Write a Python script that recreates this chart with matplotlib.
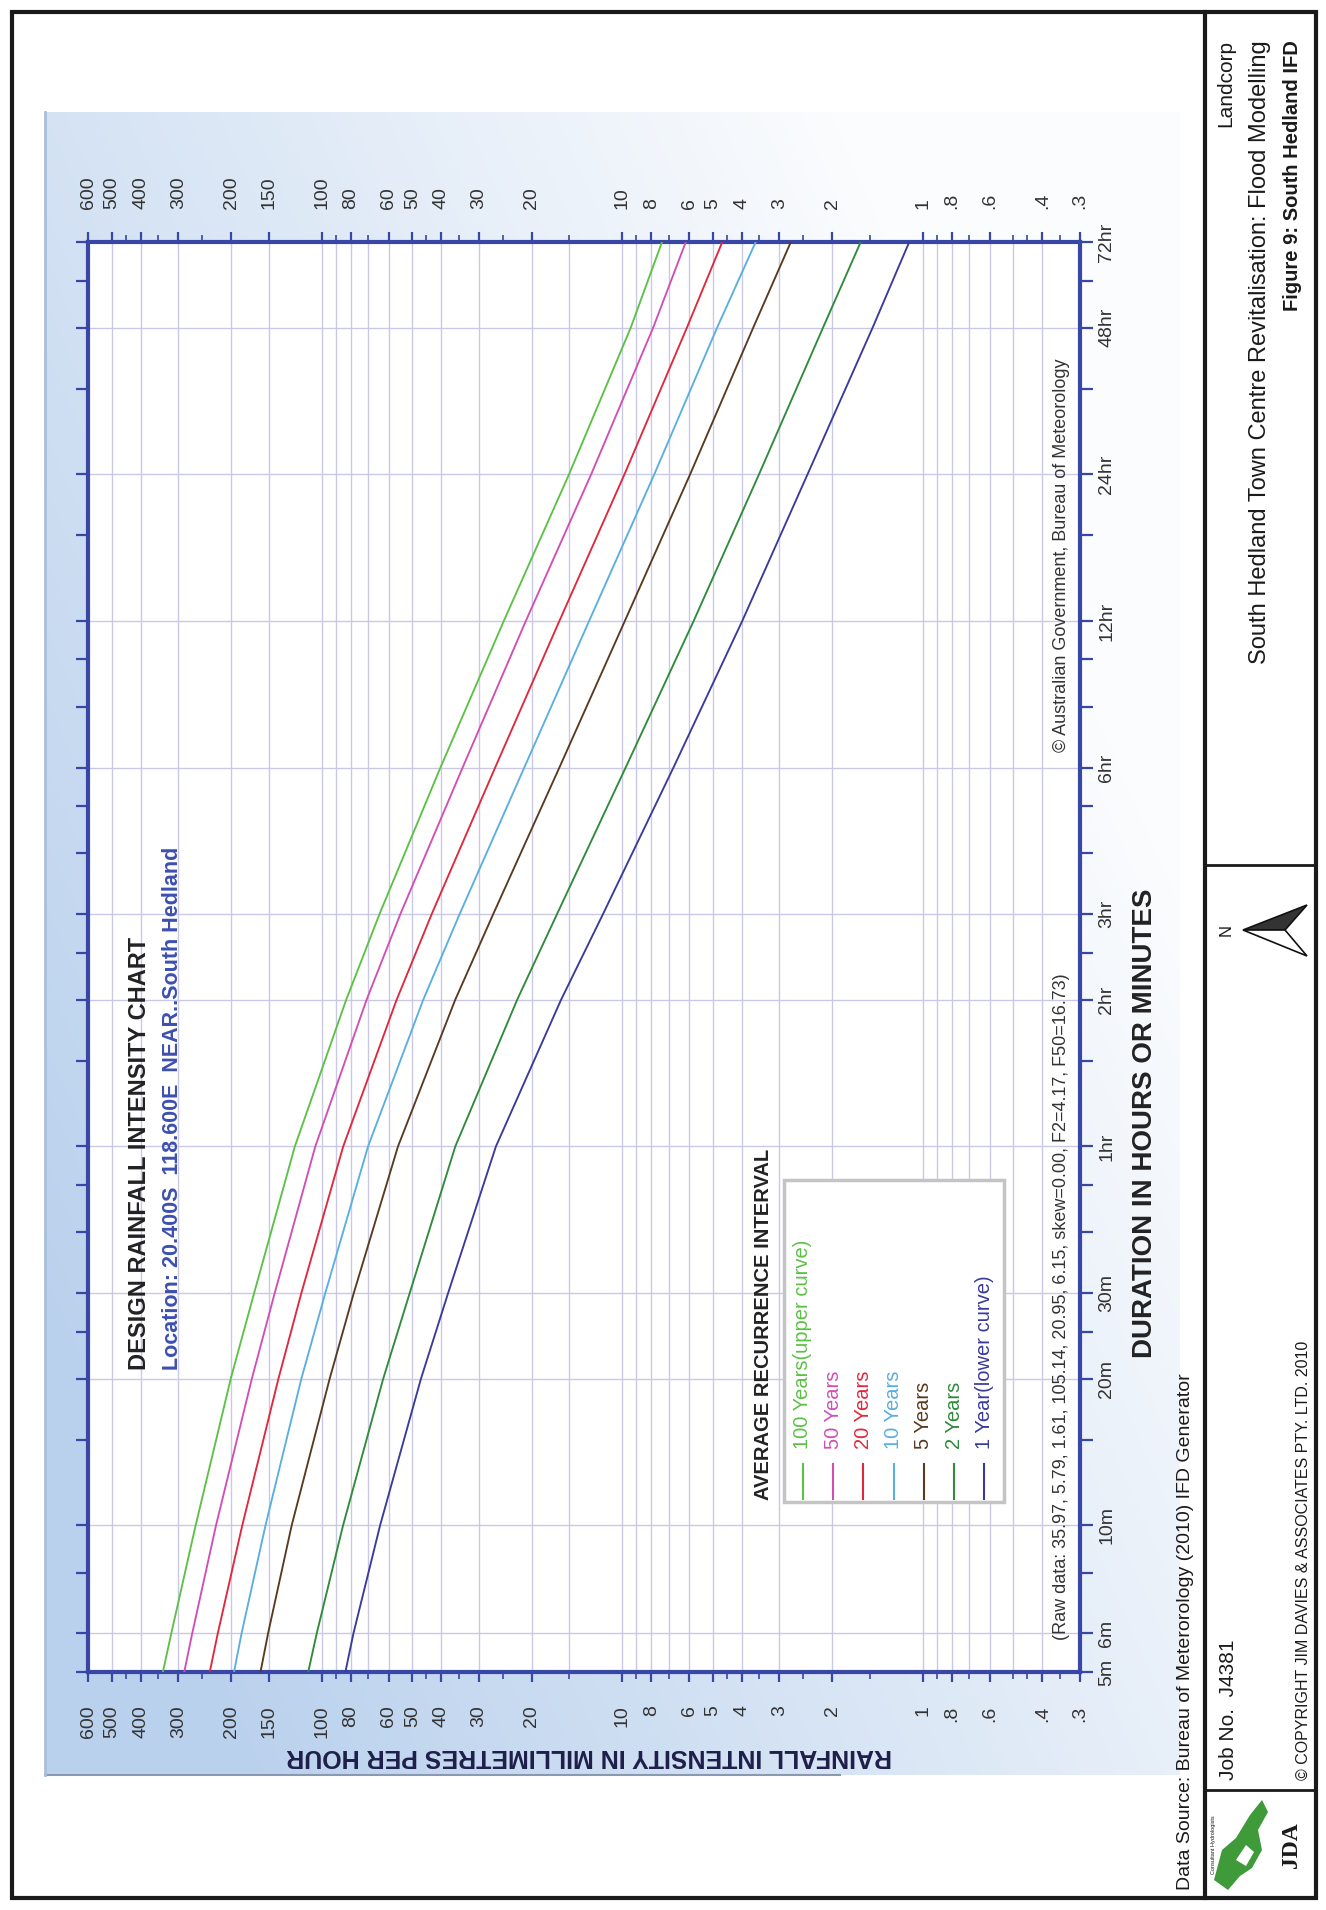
import numpy as np
import matplotlib
matplotlib.use("Agg")
import matplotlib.pyplot as plt
from matplotlib.patches import Rectangle, Polygon
from matplotlib.lines import Line2D
import matplotlib.ticker as mticker

plt.rcParams['font.family'] = ['Liberation Sans', 'DejaVu Sans']

# ---------------- data ----------------
durations_min = [5, 6, 10, 20, 30, 60, 120, 180, 360, 720, 1440, 2880, 4320]
ari_labels = ["100 Years(upper curve)", "50 Years", "20 Years", "10 Years",
              "5 Years", "2 Years", "1 Year(lower curve)"]
ari_colors = ["#5cc146", "#d04fb4", "#e0283c", "#5aaee0", "#5a3a1e", "#2f8a3a", "#3a3a9a"]
i_100 = [338, 317, 263, 201, 168, 123, 83.0, 64.3, 40.3, 24.8, 15.05, 9.38, 7.38]
i_50 = [287, 270, 225, 171, 143.5, 105.14, 71.0, 54.8, 34.0, 20.95, 12.7, 7.9, 6.15]
i_20 = [236, 222, 184, 139.5, 117, 84.9, 56.4, 43.1, 26.5, 16.2, 9.84, 6.10, 4.65]
i_10 = [196, 185, 154, 117, 97.4, 70.2, 46.0, 34.8, 21.2, 12.9, 7.83, 4.84, 3.60]
i_5 = [160, 151, 126, 94.2, 78.3, 55.8, 36.0, 26.9, 16.2, 9.81, 5.95, 3.67, 2.75]
i_2 = [111, 104, 85, 62.5, 51.0, 35.97, 22.4, 16.5, 9.75, 5.79, 3.51, 2.15, 1.61]
i_1 = [83.5, 78.5, 64.0, 46.8, 38.0, 26.35, 16.0, 11.6, 6.76, 3.99, 2.42, 1.47, 1.11]
series = [i_100, i_50, i_20, i_10, i_5, i_2, i_1]

int_tick_vals = [600, 500, 400, 300, 200, 150, 100, 80, 60, 50, 40, 30, 20, 10,
                 8, 6, 5, 4, 3, 2, 1, 0.8, 0.6, 0.4, 0.3]
int_tick_labels = ["600", "500", "400", "300", "200", "150", "100", "80", "60", "50",
                   "40", "30", "20", "10", "8", "6", "5", "4", "3", "2", "1",
                   ".8", ".6", ".4", ".3"]
int_grid_vals = [500, 400, 300, 200, 150, 100, 90, 80, 70, 60, 50, 40, 30, 20, 15,
                 10, 9, 8, 7, 6, 5, 4, 3, 2, 1, 0.9, 0.8, 0.7, 0.6, 0.5, 0.4]
dur_tick_vals = [5, 6, 10, 20, 30, 60, 120, 180, 360, 720, 1440, 2880, 4320]
dur_tick_labels = ["5m", "6m", "10m", "20m", "30m", "1hr", "2hr", "3hr", "6hr",
                   "12hr", "24hr", "48hr", "72hr"]
dur_minor_vals = [8, 15, 25, 40, 50, 90, 150, 240, 300, 480, 600, 1080, 2160, 3600]
dur_grid_vals = [6, 10, 20, 30, 60, 120, 180, 360, 720, 1440, 2880]

raw_text = "(Raw data: 35.97, 5.79, 1.61, 105.14, 20.95, 6.15, skew=0.00, F2=4.17, F50=16.73)"

# ---------------- figure ----------------
W, H = 1326, 1910
fig = plt.figure(figsize=(W / 100, H / 100), dpi=100)
fig.patch.set_facecolor("white")


def fr(x0, y0, x1, y1):
    return [x0 / W, 1 - y1 / H, (x1 - x0) / W, (y1 - y0) / H]


# background gradient panel
P = (45, 112, 1180, 1775)
bg = fig.add_axes(fr(*P))
nx, ny = 200, 300
u = np.linspace(0, 1, nx)[None, :]
v = np.linspace(1, 0, ny)[:, None]
w = np.clip(0.85 * (1 - u) + 0.55 * (1 - v) - 0.25, 0, 1)
blue = np.array([0.73, 0.82, 0.93])
white = np.array([0.985, 0.99, 0.995])
img = white[None, None, :] * (1 - w[..., None]) + blue[None, None, :] * w[..., None]
bg.imshow(img, aspect="auto", extent=[0, 1, 0, 1], interpolation="bilinear")
bg.set_axis_off()

# main chart axes
AX = (88, 242, 1080, 1672)
ax = fig.add_axes(fr(*AX))
ax.set_facecolor("white")
ax.set_xscale("log")
ax.set_yscale("log")
ax.set_xlim(600, 0.3)
ax.set_ylim(5, 4320)

navy = "#3846a6"
for v_ in int_grid_vals:
    ax.axvline(v_, color="#c9c9e6", lw=1.0, zorder=1)
for d_ in dur_grid_vals:
    ax.axhline(d_, color="#c9c9e6", lw=1.0, zorder=1)

for vals, col in zip(series, ari_colors):
    ax.plot(vals, durations_min, color=col, lw=1.35, zorder=3)

for s in ax.spines.values():
    s.set_color(navy)
    s.set_linewidth(3)

ax.xaxis.set_major_locator(mticker.FixedLocator(int_tick_vals))
ax.xaxis.set_major_formatter(mticker.FixedFormatter(int_tick_labels))
minor_x = []
for dec in [0.1, 1, 10, 100]:
    for m in [1, 1.5, 2, 2.5, 3, 3.5, 4, 4.5, 5, 6, 7, 8, 9]:
        val = m * dec
        if 0.3 <= val <= 600:
            minor_x.append(val)
ax.xaxis.set_minor_locator(mticker.FixedLocator(minor_x))
ax.xaxis.set_minor_formatter(mticker.NullFormatter())
ax.tick_params(axis="x", which="both", top=True, bottom=True, labeltop=True,
               labelbottom=True, direction="out", color=navy, labelcolor="#333333",
               labelsize=14, labelrotation=90, pad=17)
ax.tick_params(axis="x", which="major", length=7, width=1.6)
ax.tick_params(axis="x", which="minor", length=5, width=1.2)

ax.yaxis.set_major_locator(mticker.FixedLocator(dur_tick_vals))
ax.yaxis.set_major_formatter(mticker.FixedFormatter(dur_tick_labels))
ax.yaxis.set_minor_locator(mticker.FixedLocator(dur_minor_vals))
ax.yaxis.set_minor_formatter(mticker.NullFormatter())
ax.tick_params(axis="y", which="both", left=True, right=True, labelleft=False,
               labelright=True, direction="out", color=navy, labelcolor="#333333",
               labelsize=14, pad=4)
ax.tick_params(axis="y", which="major", length=9, width=1.6)
ax.tick_params(axis="y", which="minor", length=9, width=1.6)
for lab in ax.get_yticklabels():
    lab.set_rotation(90)
    lab.set_va("center")
    lab.set_ha("left")

tx = lambda x, y: (x / W, 1 - y / H)
fig.text(*tx(1062, 1640), raw_text, rotation=90, ha="center", va="bottom",
         fontsize=13, color="#333333")
fig.text(*tx(1062, 752), "\u00a9 Australian Government, Bureau of Meteorology",
         rotation=90, ha="center", va="bottom", fontsize=13, color="#333333")

fig.text(*tx(140, 1370), "DESIGN RAINFALL INTENSITY CHART", rotation=90,
         ha="center", va="bottom", fontsize=17, fontweight="bold", color="#222222")
fig.text(*tx(172, 1370), "Location: 20.400S  118.600E  NEAR..South Hedland", rotation=90,
         ha="center", va="bottom", fontsize=15.5, fontweight="bold", color="#3d4fb0")

# legend box
fig.patches.append(Rectangle((784 / W, 1 - 1502 / H), (1004 - 784) / W, (1502 - 1180) / H,
                             transform=fig.transFigure, facecolor="white",
                             edgecolor="#c4c4c4", lw=2.5, zorder=5))
fig.text(*tx(764, 1500), "AVERAGE RECURRENCE INTERVAL", rotation=90, ha="center",
         va="bottom", fontsize=14.5, fontweight="bold", color="#222222", zorder=6)
for k, (lab, col) in enumerate(zip(ari_labels, ari_colors)):
    xk = 803 + k * 30.2
    fig.lines.append(Line2D([xk / W, xk / W], [1 - 1499 / H, 1 - 1464 / H],
                            transform=fig.transFigure, color=col, lw=1.5, zorder=6))
    fig.text(*tx(xk, 1449), lab, rotation=90, ha="center", va="bottom",
             fontsize=14.5, color=col, zorder=6)

# axis titles
fig.text(*tx(1145, 1123), "DURATION IN HOURS OR MINUTES", rotation=90, ha="center",
         va="center", fontsize=20, fontweight="bold", color="#222222")
fig.text(*tx(589, 1756), "RAINFALL INTENSITY IN MILLIMETRES PER HOUR", rotation=180,
         ha="center", va="center", fontsize=18, fontweight="bold", color="#1e1e4a")

# ---------------- page frame & title block ----------------
ov = fig.add_axes([0, 0, 1, 1])
ov.set_xlim(0, W)
ov.set_ylim(H, 0)
ov.set_axis_off()
ov.patch.set_alpha(0)
ov.plot([45, 840], [1775, 1775], color="#8a98b2", lw=1.5)
ov.plot([45, 45], [112, 1775], color="#a9bfdc", lw=2)
ov.add_patch(Rectangle((12, 12), 1304, 1886, fill=False, edgecolor="#1a1a1a", lw=3))
ov.plot([1205, 1205], [12, 1898], color="#1a1a1a", lw=3)
ov.plot([1205, 1316], [865, 865], color="#1a1a1a", lw=2)
ov.plot([1205, 1316], [1790, 1790], color="#1a1a1a", lw=2)

ov.text(1226, 40, "Landcorp", rotation=90, ha="center", va="top", fontsize=15,
        color="#1a1a1a")
ov.text(1260, 40, "South Hedland Town Centre Revitalisation: Flood Modelling",
        rotation=90, ha="center", va="top", fontsize=17, color="#1a1a1a")
ov.text(1292, 40, "Figure 9: South Hedland IFD", rotation=90, ha="center", va="top",
        fontsize=14.5, fontweight="bold", color="#1a1a1a")

# north arrow
ov.add_patch(Polygon([(1243, 930), (1307, 905), (1285, 930)], closed=True,
                     facecolor="#333333", edgecolor="#111111", lw=1.2))
ov.add_patch(Polygon([(1243, 930), (1285, 930), (1307, 956)], closed=True,
                     facecolor="white", edgecolor="#111111", lw=1.2))
ov.text(1226, 930, "N", rotation=90, ha="center", va="center", fontsize=12,
        color="#1a1a1a")

ov.text(1186, 1890, "Data Source: Bureau of Meterorology (2010) IFD Generator",
        rotation=90, ha="center", va="bottom", fontsize=14, color="#1a1a1a")
ov.text(1228, 1780, "Job No.  J4381", rotation=90, ha="center", va="bottom",
        fontsize=15, color="#1a1a1a")
ov.text(1303, 1780, "\u00a9 COPYRIGHT JIM DAVIES & ASSOCIATES PTY. LTD. 2010",
        rotation=90, ha="center", va="bottom", fontsize=11.5, color="#1a1a1a")

# JDA logo
ov.add_patch(Polygon([(1214, 1880), (1222, 1850), (1236, 1838), (1250, 1815),
                      (1262, 1800), (1268, 1812), (1258, 1830), (1262, 1850),
                      (1252, 1868), (1240, 1876), (1228, 1890)], closed=True,
                     facecolor="#3f9a3a", edgecolor="none"))
ov.add_patch(Polygon([(1236, 1860), (1246, 1845), (1254, 1852), (1246, 1866)],
                     closed=True, facecolor="white", edgecolor="none"))
ov.text(1292, 1845, "JDA", rotation=90, ha="center", va="center", fontsize=17,
        fontweight="bold", family="Liberation Serif", color="#1a1a1a")
ov.text(1214, 1845, "Consultant Hydrologists", rotation=90, ha="center", va="center",
        fontsize=4, color="#1a1a1a")

fig.savefig("out.png", dpi=100)
